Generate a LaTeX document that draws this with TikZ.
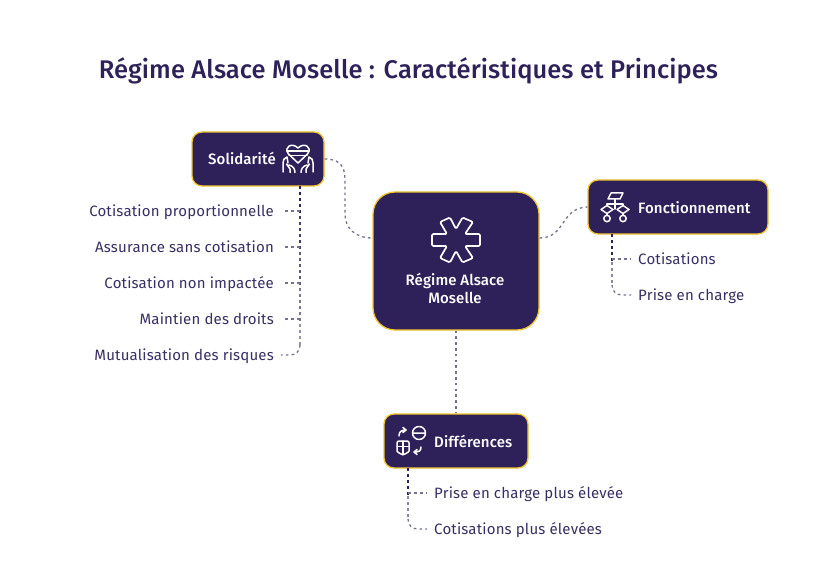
\documentclass[tikz,border=0pt]{standalone}
\usepackage{fontspec}
\setmainfont{Fira Sans}
\newfontfamily\medfont{Fira Sans Medium}
\definecolor{navy}{HTML}{2E2159}
\definecolor{gold}{HTML}{F2C62E}
\definecolor{lab}{HTML}{3A2F63}
\definecolor{conn}{HTML}{77718F}
\tikzset{
 box/.style={draw=gold,line width=1.3pt,fill=navy,rounded corners=10pt,inner sep=0pt},
 boxfont/.style={text=white,font=\medfont\fontsize{15}{18}\selectfont\addfontfeature{LetterSpace=0.6},inner sep=0pt},
 boxtext/.style={boxfont,text height=11pt,text depth=3pt},
 leaf/.style={text=lab,font=\fontsize{15}{17}\selectfont\addfontfeature{LetterSpace=1.2},inner sep=0pt,text height=11pt,text depth=3pt},
 link/.style={draw=conn,line width=1.3pt,dash pattern=on 2.6pt off 3.2pt},
 stub/.style={draw=conn,line width=1.3pt,dash pattern=on 3pt off 3pt},
 icon/.style={draw=white,line width=1.5pt,line join=round,line cap=round},
 trunk/.style={line width=2pt,dash pattern=on 3pt off 3pt}
}
\begin{document}
\begin{tikzpicture}[x=1pt,y=-1pt]
\useasboundingbox (0,0) rectangle (816,588);
\fill[white] (0,0) rectangle (816,588);
\node[text=navy,font=\medfont\fontsize{25.5}{30}\selectfont\addfontfeature{LetterSpace=0.3},inner sep=0pt] (title) at (408.5,70.5) {Régime Alsace Moselle : Caractéristiques et Principes};

\node[box,rounded corners=22pt,minimum width=166pt,minimum height=138pt] (main) at (456,261) {};
\node[box,minimum width=132pt,minimum height=54pt] (sol) at (258,159) {};
\node[box,minimum width=180pt,minimum height=54pt] (fon) at (678,207) {};
\node[box,minimum width=144pt,minimum height=54pt] (dif) at (456,441) {};

\node[boxfont,align=center] (maintext) at (455,288) {Régime Alsace\\Moselle};
\node[boxtext,anchor=west] (soltext) at (208,161) {Solidarité};
\node[boxtext,anchor=west] (fontext) at (638,209) {Fonctionnement};
\node[boxtext,anchor=west] (diftext) at (434,443) {Différences};

\node[leaf,anchor=east] (s1) at (274,212.5) {Cotisation proportionnelle};
\node[leaf,anchor=east] (s2) at (274,248.5) {Assurance sans cotisation};
\node[leaf,anchor=east] (s3) at (274,284.5) {Cotisation non impactée};
\node[leaf,anchor=east] (s4) at (274,320.5) {Maintien des droits};
\node[leaf,anchor=east] (s5) at (274,356.5) {Mutualisation des risques};
\node[leaf,anchor=west] (f1) at (638,260.5) {Cotisations};
\node[leaf,anchor=west] (f2) at (638,296.5) {Prise en charge};
\node[leaf,anchor=west] (d1) at (434,494.5) {Prise en charge plus élevée};
\node[leaf,anchor=west] (d2) at (434,530.5) {Cotisations plus élevées};

% links between main nodes
\draw[link] (sol.east) .. controls (345,159) and (345,172) .. (345,184) -- (345,214) .. controls (345,228) and (355,238) .. (main.west |- 0,238);
\draw[link] (main.east |- 0,238) .. controls (566,238) and (560,208) .. (fon.west);
\draw[link] (main.south) -- (dif.north);

% Solidarité tree
\foreach \a/\b/\c in {186/216/navy,216/252/navy!88!white,252/288/navy!75!white,288/324/navy!62!white,324/345/navy!50!white}
  \draw[trunk,draw=\c] (300,\a) -- (300,\b);
\draw[link] (300,345) .. controls (300,351) and (296,355) .. (290,355) -- (281,355);
\foreach \y in {211,247,283,319} \draw[stub] (285,\y) -- (300,\y);

% Fonctionnement tree
\foreach \a/\b/\c in {234/262/navy,262/285/navy!55!white}
  \draw[trunk,draw=\c] (612,\a) -- (612,\b);
\draw[link] (612,285) .. controls (612,291) and (616,295) .. (622,295) -- (631,295);
\draw[stub] (612,259) -- (631,259);

% Différences tree
\foreach \a/\b/\c in {468/496/navy,496/519/navy!55!white}
  \draw[trunk,draw=\c] (408,\a) -- (408,\b);
\draw[link] (408,519) .. controls (408,525) and (412,529) .. (418,529) -- (427,529);
\draw[stub] (408,493) -- (427,493);

% star icon
\draw[icon,rounded corners=1.3pt,line width=1.7pt] (432,234) -- (447,234) -- (440,222) -- (450,217.5) -- (456,229) -- (462.5,217.5) -- (473,222) -- (465,234) -- (480,234) -- (480,246) -- (465,246) -- (473,258) -- (462.5,262.5) -- (456,251) -- (450,262.5) -- (440,258) -- (447,246) -- (432,246) -- cycle;

% heart and hands icon
\draw[icon] (298,163) -- (288.5,154) .. controls (283,147) and (292,142) .. (298,148) .. controls (304,142) and (313,147) .. (307.5,154) -- cycle;
\draw[icon] (287,151) -- (309,151) (289,155.5) -- (307,155.5);
\draw[icon] (283,172) -- (283,163) .. controls (283,160) and (284,158) .. (287,157) -- (288,163) (290,172.5) -- (290,169) -- (286.5,164) (289,165) .. controls (293,166) and (295,169) .. (295,172.5);
\draw[icon] (313,172) -- (313,163) .. controls (313,160) and (312,158) .. (309,157) -- (308,163) (306,172.5) -- (306,169) -- (309.5,164) (307,165) .. controls (303,166) and (301,169) .. (301,172.5);

% flow icon
\draw[icon] (611,193) -- (623,193) -- (620,199) -- (608,199) -- cycle;
\draw[icon] (615,199) -- (615,209) (607,205) -- (607,204) -- (623,204) -- (623,205);
\draw[icon] (601,209.5) -- (607,205.5) -- (613,209.5) -- (607,213.5) -- cycle;
\draw[icon] (617,209.5) -- (623,205.5) -- (629,209.5) -- (623,213.5) -- cycle;
\draw[icon] (607,213.5) -- (607,215) (623,213.5) -- (623,215);
\draw[icon] (607,218.5) circle (3.2pt) (623,218.5) circle (3.2pt);

% exchange icon
\draw[icon] (419,433) circle (6.5pt) (413,433) -- (425,433);
\draw[icon,rounded corners=2pt] (397,441) -- (409,441) -- (409,449) .. controls (409,452) and (405,454) .. (403,455) .. controls (401,454) and (397,452) .. (397,449) -- cycle;
\draw[icon] (397,446.5) -- (409,446.5) (403,441) -- (403,455);
\draw[icon] (399,436) .. controls (399,432) and (401,430) .. (406,430) (403,427.5) -- (406,430) -- (403,432.5);
\draw[icon] (421,447) .. controls (421,451) and (419,452) .. (414,452) (417,449.5) -- (414,452) -- (417,454.5);
\end{tikzpicture}
\end{document}
